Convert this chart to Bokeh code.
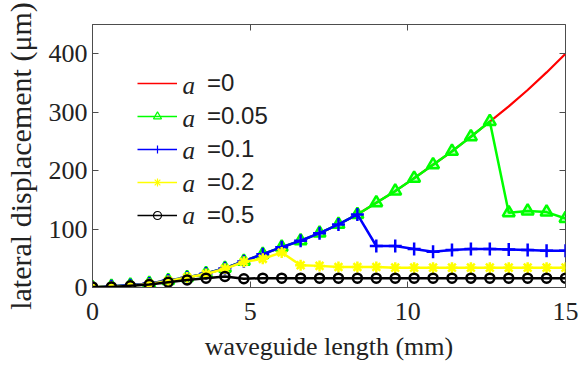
from bokeh.plotting import figure
from bokeh.models import Range1d, LinearAxis, Legend, LegendItem, Label, FixedTicker, ColumnDataSource
from bokeh.embed import file_html
from bokeh.resources import INLINE

# ---- data ----
length_mm = [0.0, 0.6, 1.2, 1.8, 2.4, 3.0, 3.6, 4.2, 4.8, 5.4, 6.0, 6.6, 7.2,
             7.8, 8.4, 9.0, 9.6, 10.2, 10.8, 11.4, 12.0, 12.6, 13.2, 13.8, 14.4, 15.0]
disp_a0 = [0, 2, 4, 7, 12, 17, 24, 33, 45, 57, 69, 80, 93,
           108, 125, 145, 165, 187, 210, 233, 258, 284, 310, 338, 368, 400]
disp_a005 = [0, 2, 4, 7, 12, 17, 24, 33, 45, 57, 69, 80, 93,
             108, 125, 145, 165, 187, 210, 233, 258, 284, 128, 131, 129, 118]
disp_a01 = [0, 2, 4, 7, 12, 17, 24, 33, 45, 57, 69, 80, 93,
            108, 125, 71, 71, 66, 61, 64, 66, 66, 65, 64, 63, 63]
disp_a02 = [1, 1, 3, 6, 11, 17, 23, 32, 44, 49, 60, 38, 37,
            35, 35, 35, 34, 34, 34, 34, 34, 34, 34, 34, 34, 34]
disp_a05 = [1, 1, 3, 5, 9, 13, 16, 19, 15, 16, 16, 16, 16,
            16, 16, 16, 16, 16, 16, 16, 16, 16, 16, 16, 16, 16]
legend_labels = ["=0", "=0.05", "=0.1", "=0.2", "=0.5"]
x_ticks = [0, 5, 10, 15]
y_ticks = [0, 100, 200, 300, 400]

SERIF = "Liberation Serif"
SANS = "Liberation Sans"
AX = "#4d4d4d"
TXT = "#222222"

p = figure(width=587, height=370, output_backend="svg", toolbar_location=None,
           x_range=Range1d(0, 15), y_range=Range1d(0, 450),
           min_border_left=91, min_border_right=22, min_border_top=24, min_border_bottom=83)
p.grid.visible = False
p.background_fill_color = "white"
p.border_fill_color = "white"
p.outline_line_color = AX
p.outline_line_width = 1

for ax in (p.xaxis[0], p.yaxis[0]):
    ax.major_tick_in = 6
    ax.major_tick_out = 0
    ax.minor_tick_line_color = None
    ax.axis_line_color = AX
    ax.major_tick_line_color = AX
    ax.major_label_text_font = SERIF
    ax.major_label_text_font_size = "26px"
    ax.major_label_text_color = TXT
    ax.axis_label_text_font = SERIF
    ax.axis_label_text_font_style = "normal"
    ax.axis_label_text_color = TXT

p.xaxis[0].ticker = FixedTicker(ticks=x_ticks)
p.yaxis[0].ticker = FixedTicker(ticks=y_ticks)
p.xaxis[0].axis_label = "waveguide length (mm)"
p.yaxis[0].axis_label = "lateral displacement (μm)"
p.xaxis[0].axis_label_text_font_size = "26px"
p.yaxis[0].axis_label_text_font_size = "30px"
p.xaxis[0].major_label_standoff = 15
p.yaxis[0].major_label_standoff = 5
p.xaxis[0].axis_label_standoff = 9
p.yaxis[0].axis_label_standoff = 9

top = LinearAxis(ticker=FixedTicker(ticks=x_ticks),
                 major_label_overrides={t: "" for t in x_ticks},
                 major_tick_in=6, major_tick_out=0, minor_tick_line_color=None,
                 axis_line_color=None, major_tick_line_color=AX, major_label_standoff=0)
right = LinearAxis(ticker=FixedTicker(ticks=y_ticks),
                   major_label_overrides={t: "" for t in y_ticks},
                   major_tick_in=6, major_tick_out=0, minor_tick_line_color=None,
                   axis_line_color=None, major_tick_line_color=AX, major_label_standoff=0)
p.add_layout(top, "above")
p.add_layout(right, "right")

src = ColumnDataSource(dict(x=length_mm, a0=disp_a0, a005=disp_a005, a01=disp_a01,
                            a02=disp_a02, a05=disp_a05))

LW = 2.5
p.line("x", "a0", source=src, line_color="#ff0000", line_width=2.2)
p.line("x", "a005", source=src, line_color="#00ff00", line_width=LW)
p.scatter("x", "a005", source=src, marker="triangle", size=12, line_color="#00ff00",
          fill_color="#00ff00", fill_alpha=0.25, line_width=LW)
p.line("x", "a01", source=src, line_color="#0000ff", line_width=LW)
p.scatter("x", "a01", source=src, marker="cross", size=13, line_color="#0000ff", line_width=LW)
p.line("x", "a02", source=src, line_color="#ffff00", line_width=LW)
p.scatter("x", "a02", source=src, marker="asterisk", size=11, line_color="#ffff00", line_width=LW)
p.line("x", "a05", source=src, line_color="#000000", line_width=LW)
p.scatter("x", "a05", source=src, marker="circle", size=9, line_color="#000000",
          fill_color=None, line_width=LW)

# thin legend-only renderers (no visible data)
nan = float("nan")
specs = [("#ff0000", None), ("#00ff00", "triangle"), ("#0000ff", "cross"),
         ("#ffff00", "asterisk"), ("#000000", "circle")]
items = []
for (c, m), lab in zip(specs, legend_labels):
    empty = ColumnDataSource(dict(x=[nan, nan], y=[nan, nan]))
    rs = [p.line("x", "y", source=empty, line_color=c, line_width=1.3)]
    if m is not None:
        rs.append(p.scatter("x", "y", source=empty, marker=m, size=9, line_color=c,
                            fill_color=None, line_width=1.2))
    items.append(LegendItem(label=lab, renderers=rs))

leg = Legend(items=items, location=(45, 58), padding=0, margin=0, spacing=5,
             glyph_width=40, glyph_height=20, label_height=20, label_standoff=30,
             label_text_font=SANS, label_text_font_size="24px", label_text_color=TXT,
             border_line_alpha=0, background_fill_alpha=0)
p.add_layout(leg, "center")

# italic "a" in the legend labels
for i in range(len(legend_labels)):
    p.add_layout(Label(x=90, y=202 - 32.5 * i, x_units="screen", y_units="screen",
                       text="a", text_font=SERIF, text_font_style="italic",
                       text_font_size="25px", text_color=TXT, text_baseline="middle"))

open("out.html", "w").write(file_html(p, INLINE))
